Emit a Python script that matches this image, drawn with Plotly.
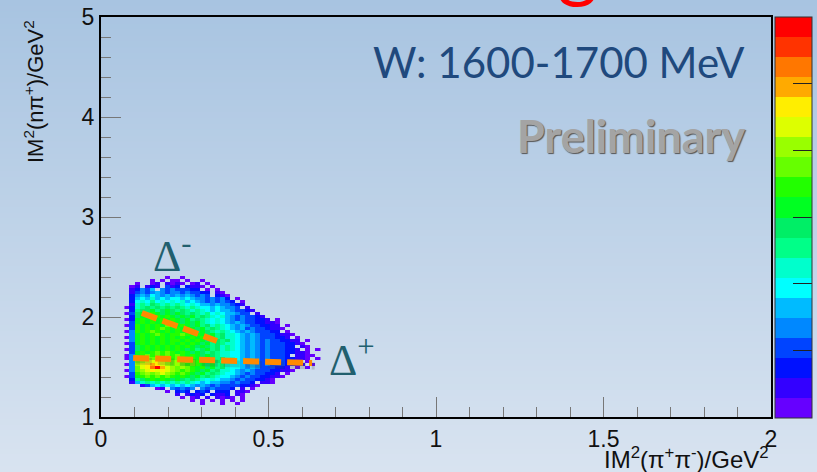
import plotly.graph_objects as go

# ---------------- data ----------------
x_bin_start = 0.07
x_bin_width = 0.015
y_bin_start = 1.12
y_bin_width = 0.03
# 2D histogram, rows listed from top (high y) to bottom.
# '.' = empty cell, '1'..'9','a'..'k' = colour band 1..20 of the palette
density_rows = [
    ".........." ".........." ".........." ".........",
    "........1." ".1........" ".........." ".........",
    ".....1.1.1" "1.1..1...." ".........." ".........",
    "..1..12.21" "21.12.1..." ".........." ".........",
    ".12.232.42" "3.3221.1.." ".........." ".........",
    ".23546.545" "44433.1.1." ".........." ".........",
    ".245456545" "5454433.21" ".........." ".........",
    ".356576565" "6565454.32" "1........." ".........",
    ".367686767" "7676554545" "3.1......." ".........",
    ".378797878" "7867654545" "43.1......" ".........",
    ".2898a9898" "9878766565" "5432......" ".........",
    "1389a9a9a9" "a989877676" "554.2....." ".........",
    ".39aab9aba" "9a98987676" "654432...." ".........",
    "14abacbaba" "ba9a989787" "66544.2..." ".........",
    ".3abcbcbcb" "abab9a9878" "65454432.." ".........",
    "13bcbcbcbc" "bab9a98787" "654544332." "1........",
    ".4bcbcbcbc" "babab98787" "6565443322" "1........",
    "14cbcbcbdc" "bcbab9a898" "7656544332" "2.1......",
    ".4cbcbcdcb" "cbcbab9a98" "7656454432" "21.......",
    "15cbcdcbcb" "cbcbaba989" "8765654443" "3.1......",
    ".5bcbcdcbc" "cdcbcbab9a" "8876565444" "3221.....",
    "15bcbcbcbc" "bcbcbcab9a" "8876565444" "332.1....",
    ".5bcbcbcbc" "cbcbcbaba9" "a876565454" "43322.1..",
    "14bcbcbcbc" "bcbcbab9a9" "8876565454" "443321...",
    ".4abcbcbcb" "cbcbaba9a8" "9876565454" "4433.21..",
    "14abcbcbcb" "cbab9ab9a8" "9876565454" "44332.1.1",
    ".4bcbcdcdc" "bcbaba9a98" "8776565454" "4433221..",
    "15bcdcdcdc" "dcbcbaba98" "8776565454" "443.2211.",
    "15cdedfedc" "dcdcbcab9a" "8876565454" "4433221.1",
    ".5deffgfed" "ededcbcba9" "9876565454" "44332.1..",
    "15efghgfed" "edcdcbab9a" "8776565454" "443322.1.",
    ".5dfgikhfe" "dedcbcab9a" "8776565444" "332.1.1..",
    "15defgfgfe" "dcdcbab9a8" "8765654443" "3221.....",
    ".4cdedefed" "cdcbab9a98" "7765454433" "2.1......",
    "14bcdcdcdc" "bcbab9a987" "7654544332" "21.......",
    ".39abcbcba" "ba9a987876" "6545443321" ".........",
    ".268989898" "9898767665" "545443.221" ".........",
    "...2467676" "7676565454" "4443321..." ".........",
    "......12.5" "4545.54544" "43.2.1...." ".........",
    "........1." "343.343.33" "3.221....." ".........",
    ".........." "2.2323.322" "3.21......" ".........",
    ".........." ".1.12.2.21" "21.1......" ".........",
    ".........." "...1.1.1.1" ".1.1......" ".........",
    ".........." ".....1...1" "..1......." ".........",
]
band_colors = [
    "#6600ff", "#3300ff", "#0011ff", "#0044ff", "#0088ff",
    "#00bbff", "#00ffff", "#00ffcc", "#00ff88", "#00ee66",
    "#00ff22", "#22ff00", "#66ff00", "#99ff00", "#ddff00",
    "#ffee00", "#ffaa00", "#ff7700", "#ff3300", "#ff0000",
]
z_max = 60
colorbar_ticks = [10, 20, 30, 40, 50]
x_ticks = [0, 0.5, 1, 1.5, 2]
x_tick_labels = ["0", "0.5", "1", "1.5", "2"]
y_ticks = [1, 2, 3, 4, 5]
y_tick_labels = ["1", "2", "3", "4", "5"]
delta_minus_line_x = [0.122, 0.346]
delta_minus_line_y = [2.04, 1.76]
delta_plus_line_x = [0.096, 0.63]
delta_plus_line_y = [1.59, 1.54]

# ---------------- build ----------------
n_bands = len(band_colors)
ncols = 39
z = []
for row in reversed(density_rows):
    row = row.ljust(ncols, ".")[:ncols]
    vals = []
    for ch in row:
        if ch == ".":
            vals.append(None)
        else:
            b = int(ch, 36)
            vals.append((b - 0.5) * z_max / n_bands)
    z.append(vals)

colorscale = []
for i, c in enumerate(band_colors):
    colorscale.append([i / n_bands, c])
    colorscale.append([(i + 1) / n_bands, c])

W, H = 817, 472
ml, mr, mt, mb = 101, 46, 17, 55
pw, ph = W - ml - mr, H - mt - mb


def px_x(p):
    return (p - ml) / pw


def px_y(p):
    return (H - mb - p) / ph


fig = go.Figure()

# background gradient (paper)
top = (168, 196, 225)
bot = (216, 227, 240)
nstrip = 80
shapes = []
y_lo = -mb / ph
y_hi = 1 + mt / ph
for k in range(nstrip):
    t = k / (nstrip - 1)
    col = tuple(int(round(top[i] + (bot[i] - top[i]) * t)) for i in range(3))
    y1 = y_hi - (y_hi - y_lo) * k / nstrip
    y0 = y_hi - (y_hi - y_lo) * (k + 1) / nstrip - 0.003
    shapes.append(dict(type="rect", xref="paper", yref="paper",
                       x0=-ml / pw - 0.01, x1=1 + mr / pw + 0.01, y0=y0, y1=y1,
                       fillcolor="rgb(%d,%d,%d)" % col, line=dict(width=0), layer="below"))

fig.add_trace(go.Heatmap(
    z=z, x0=x_bin_start + x_bin_width / 2, dx=x_bin_width,
    y0=y_bin_start + y_bin_width / 2, dy=y_bin_width,
    zmin=0, zmax=z_max, colorscale=colorscale, hoverinfo="skip",
    colorbar=dict(x=px_x(775), xanchor="left", xpad=0, ypad=0,
                  thickness=37, thicknessmode="pixels",
                  len=401, lenmode="pixels", y=0.5, yanchor="middle",
                  outlinewidth=1, outlinecolor="#333",
                  ticks="inside", ticklen=19, tickcolor="#222",
                  tickvals=colorbar_ticks, showticklabels=False),
))

# shadow + dashed lines
fig.add_trace(go.Scatter(x=[v + 0.008 for v in delta_plus_line_x],
                         y=[v - 0.03 for v in delta_plus_line_y], mode="lines",
                         line=dict(color="rgba(70,70,70,0.22)", width=7, dash="16px,6px"),
                         hoverinfo="skip", showlegend=False))
for lx, ly in [(delta_minus_line_x, delta_minus_line_y), (delta_plus_line_x, delta_plus_line_y)]:
    fig.add_trace(go.Scatter(x=lx, y=ly, mode="lines",
                             line=dict(color="#ff8a00", width=6, dash="16px,6px"),
                             hoverinfo="skip", showlegend=False))

axis_common = dict(ticks="inside", tickcolor="#777", tickwidth=1, ticklen=20,
                   showgrid=False, zeroline=False, showline=True, linecolor="black",
                   linewidth=2, mirror=True,
                   tickfont=dict(family="Liberation Sans", size=23, color="#111"))
fig.update_xaxes(range=[0, 2], tickmode="array", tickvals=x_ticks, ticktext=x_tick_labels,
                 minor=dict(tickmode="linear", tick0=0, dtick=0.1, ticks="inside", ticklen=10,
                            tickcolor="#777", showgrid=False), **axis_common)
fig.update_yaxes(range=[1, 5], tickmode="array", tickvals=y_ticks, ticktext=y_tick_labels,
                 minor=dict(tickmode="linear", tick0=1, dtick=0.2, ticks="inside", ticklen=10,
                            tickcolor="#777", showgrid=False), **axis_common)

annotations = [
    dict(text="Dalitz Plot Binning", xref="paper", yref="paper",
         x=px_x(600), xanchor="right", y=px_y(11), yanchor="bottom",
         showarrow=False, font=dict(family="Lato", size=78, color="#ff0000")),
    dict(text="W: 1600-1700 MeV", xref="paper", yref="paper", x=px_x(747), xanchor="right",
         y=px_y(62), yanchor="middle", showarrow=False,
         font=dict(family="Lato", size=42, color="#1f497d")),
    dict(text="Preliminary", xref="paper", yref="paper", x=px_x(747), xanchor="right",
         y=px_y(136), yanchor="middle", showarrow=False,
         font=dict(family="Lato", size=45, color="#a4a4a4", weight="bold",
                   shadow="1px 1px 1px #555")),
    dict(text="Δ<sup>-</sup>", xref="paper", yref="paper", x=px_x(172), xanchor="center",
         y=px_y(253), yanchor="middle", showarrow=False,
         font=dict(family="Liberation Serif", size=44, color="#215f6e")),
    dict(text="Δ<sup>+</sup>", xref="paper", yref="paper", x=px_x(352), xanchor="center",
         y=px_y(357), yanchor="middle", showarrow=False,
         font=dict(family="Liberation Serif", size=44, color="#215f6e")),
    dict(text="IM<sup>2</sup>(nπ<sup>+</sup>)/GeV<sup>2</sup>", xref="paper", yref="paper",
         x=px_x(34), xanchor="center", y=px_y(92), yanchor="middle",
         textangle=-90, showarrow=False,
         font=dict(family="Liberation Sans", size=22, color="#111")),
    dict(text="IM<sup>2</sup>(π<sup>+</sup>π<sup>-</sup>)/GeV<sup>2</sup>", xref="paper", yref="paper",
         x=1.0, xanchor="right", y=px_y(458), yanchor="middle",
         showarrow=False, font=dict(family="Liberation Sans", size=24, color="#111")),
]

fig.update_layout(width=W, height=H, autosize=False,
                  margin=dict(l=ml, r=mr, t=mt, b=mb, pad=0, autoexpand=False),
                  paper_bgcolor="rgb(192,211,232)", plot_bgcolor="rgba(0,0,0,0)",
                  shapes=shapes, annotations=annotations, showlegend=False)

fig.write_html("out.html")
